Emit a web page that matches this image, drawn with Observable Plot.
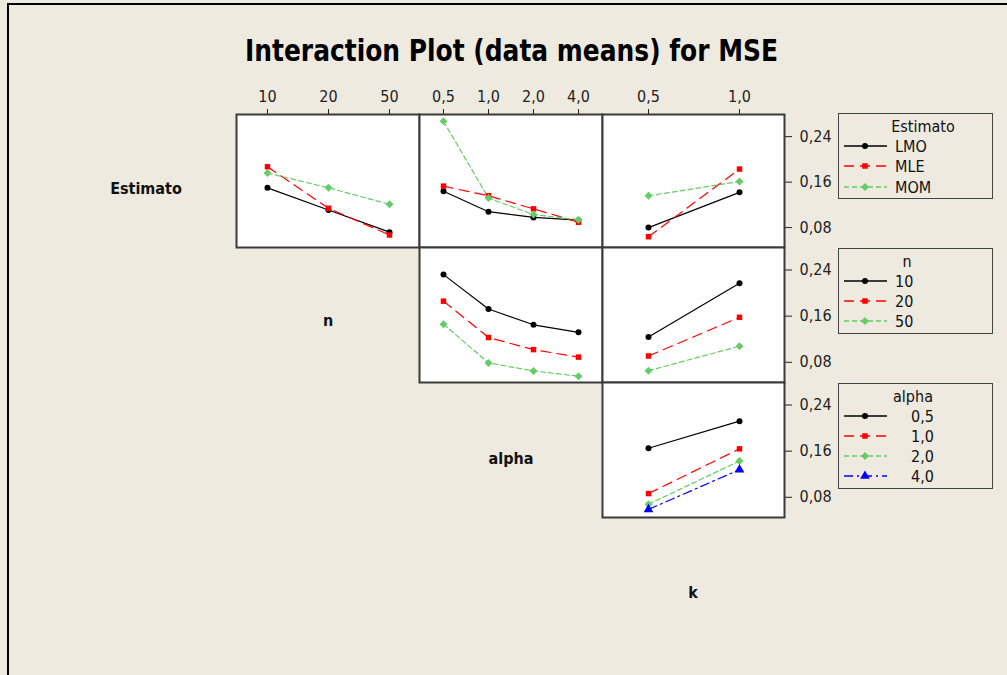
<!DOCTYPE html>
<html>
<head>
<meta charset="utf-8">
<script src="https://cdn.jsdelivr.net/npm/d3@7"></script>
<script src="https://cdn.jsdelivr.net/npm/@observablehq/plot@0.6"></script>
<style>
html, body { margin: 0; padding: 0; background: #EEEAE0; overflow: hidden; }
#root { position: relative; width: 1007px; height: 675px; overflow: hidden; background: #EEEAE0;
  font-family: "DejaVu Sans Condensed", "Liberation Sans", sans-serif; }
.outer { position: absolute; left: 7px; top: 3px; width: 1100px; height: 800px;
  border-left: 2px solid #000; border-top: 2px solid #000; }
.abs { position: absolute; }
.rowlab { position: absolute; transform: translate(-50%, -50%); font-weight: bold; font-size: 16px; color: #111; white-space: nowrap; }
</style>
</head>
<body>
<div id="root"><div class="outer"></div></div>
<script>
// ---------- data ----------
const estimators = ["LMO", "MLE", "MOM"];
const nLevels = ["10", "20", "50"];
const alphaLevels = ["0,5", "1,0", "2,0", "4,0"];
const kLevels = ["0,5", "1,0"];
const yTicks = [0.08, 0.16, 0.24];

// Estimato x n
const lmoByN = [0.150, 0.111, 0.072];
const mleByN = [0.187, 0.114, 0.067];
const momByN = [0.176, 0.150, 0.121];
// Estimato x alpha
const lmoByAlpha = [0.144, 0.108, 0.098, 0.093];
const mleByAlpha = [0.153, 0.136, 0.113, 0.0895];
const momByAlpha = [0.267, 0.132, 0.103, 0.094];
// Estimato x k
const lmoByK = [0.080, 0.142];
const mleByK = [0.064, 0.183];
const momByK = [0.136, 0.161];
// n x alpha
const n10ByAlpha = [0.232, 0.1725, 0.145, 0.132];
const n20ByAlpha = [0.186, 0.123, 0.102, 0.089];
const n50ByAlpha = [0.146, 0.079, 0.065, 0.056];
// n x k
const n10ByK = [0.124, 0.217];
const n20ByK = [0.091, 0.158];
const n50ByK = [0.0655, 0.108];
// alpha x k
const a05ByK = [0.165, 0.212];
const a10ByK = [0.0865, 0.164];
const a20ByK = [0.068, 0.143];
const a40ByK = [0.059, 0.128];

// ---------- styles ----------
const styles = [
  {color: "#000000", dash: null, symbol: "circle", r: 3},
  {color: "#FF0000", dash: "10,6", symbol: "square", r: 3.1},
  {color: "#66CC66", dash: "5,3", symbol: "diamond2", r: 3.6},
  {color: "#0000FF", dash: "9,4,2,4", symbol: "triangle", r: 3.6}
];
const FONT = '"DejaVu Sans Condensed", "Liberation Sans", sans-serif';
const yDomain = [0.045, 0.279];
const fmt = d => d.toFixed(2).replace(".", ",");

const root = document.getElementById("root");

function panel({xDomain, series, left, top, right, bottom, topAxis, rightAxis}) {
  const mL = 1, mB = 1;
  const mT = topAxis ? 34 : 1;
  const mR = rightAxis ? 60 : 1;
  const w = right - left, h = bottom - top;
  const marks = [Plot.frame({fill: "white", stroke: null})];
  series.forEach((vals, si) => {
    const st = styles[si];
    const rows = vals.map((v, i) => ({x: xDomain[i], y: v}));
    marks.push(Plot.line(rows, {x: "x", y: "y", stroke: st.color, strokeWidth: 1.2,
      strokeDasharray: st.dash || undefined}));
  });
  series.forEach((vals, si) => {
    const st = styles[si];
    const rows = vals.map((v, i) => ({x: xDomain[i], y: v}));
    marks.push(Plot.dot(rows, {x: "x", y: "y", symbol: st.symbol, r: st.r, fill: st.color, stroke: null}));
  });
  marks.push(Plot.frame({stroke: "#3a3a3a", strokeWidth: 2}));
  const svg = Plot.plot({
    width: w + mL + mR, height: h + mT + mB,
    marginLeft: mL, marginRight: mR, marginTop: mT, marginBottom: mB,
    x: {type: "point", domain: xDomain, padding: 0.5,
        axis: topAxis ? "top" : null, tickSize: 6, tickPadding: 7, label: null},
    y: {domain: yDomain, axis: rightAxis ? "right" : null, ticks: yTicks, tickFormat: fmt,
        tickSize: 7, tickPadding: 8, label: null},
    style: {background: "transparent", fontFamily: FONT, fontSize: "16px", color: "#222", overflow: "visible"},
    marks
  });
  svg.classList.add("abs");
  svg.style.left = (left - mL) + "px";
  svg.style.top = (top - mT) + "px";
  root.appendChild(svg);
}

const cx = [236, 419, 602, 784];
const ry = [114, 247, 382, 517];

panel({xDomain: nLevels, series: [lmoByN, mleByN, momByN], left: cx[0], right: cx[1], top: ry[0], bottom: ry[1], topAxis: true});
panel({xDomain: alphaLevels, series: [lmoByAlpha, mleByAlpha, momByAlpha], left: cx[1], right: cx[2], top: ry[0], bottom: ry[1], topAxis: true});
panel({xDomain: kLevels, series: [lmoByK, mleByK, momByK], left: cx[2], right: cx[3], top: ry[0], bottom: ry[1], topAxis: true, rightAxis: true});
panel({xDomain: alphaLevels, series: [n10ByAlpha, n20ByAlpha, n50ByAlpha], left: cx[1], right: cx[2], top: ry[1], bottom: ry[2]});
panel({xDomain: kLevels, series: [n10ByK, n20ByK, n50ByK], left: cx[2], right: cx[3], top: ry[1], bottom: ry[2], rightAxis: true});
panel({xDomain: kLevels, series: [a05ByK, a10ByK, a20ByK, a40ByK], left: cx[2], right: cx[3], top: ry[2], bottom: ry[3], rightAxis: true});

// ---------- row labels ----------
[["Estimato", 146, 188], ["n", 328, 320], ["alpha", 511, 458], ["k", 693, 592]].forEach(([t, x, y]) => {
  const d = document.createElement("div");
  d.className = "rowlab"; d.textContent = t;
  d.style.left = x + "px"; d.style.top = y + "px";
  d.style.fontFamily = FONT;
  root.appendChild(d);
});

// ---------- title ----------
const tsvg = d3.create("svg").attr("class", "abs").attr("width", 1007).attr("height", 80)
  .style("left", "0px").style("top", "0px");
tsvg.append("text").attr("x", 511.5).attr("y", 61).attr("text-anchor", "middle")
  .attr("font-family", "DejaVu Sans, sans-serif").attr("font-weight", "bold").attr("font-size", 30)
  .attr("textLength", 533).attr("lengthAdjust", "spacingAndGlyphs").attr("fill", "#000")
  .text("Interaction Plot (data means) for MSE");
root.appendChild(tsvg.node());

// ---------- legends ----------
const lsvg = d3.create("svg").attr("class", "abs").attr("width", 170).attr("height", 420)
  .style("left", "830px").style("top", "100px");
const legends = [
  {title: "Estimato", titleX: 923, labels: estimators, labelX: 895, box: [113, 198], titleY: 126, itemY: [146, 166, 187]},
  {title: "n", titleX: 907, labels: nLevels, labelX: 895, box: [248, 333], titleY: 261, itemY: [281, 301, 321]},
  {title: "alpha", titleX: 913, labels: alphaLevels, labelX: 911, box: [383, 488], titleY: 396, itemY: [416, 436, 456, 476]}
];
const ox = 830, oy = 100;
const symMap = {circle: d3.symbolCircle, square: d3.symbolSquare, diamond2: d3.symbolDiamond2, triangle: d3.symbolTriangle};
legends.forEach(L => {
  lsvg.append("rect").attr("x", 838.5 - ox).attr("y", L.box[0] + 0.5 - oy)
    .attr("width", 154).attr("height", L.box[1] - L.box[0])
    .attr("fill", "none").attr("stroke", "#444").attr("stroke-width", 1);
  lsvg.append("text").attr("x", L.titleX - ox).attr("y", L.titleY - oy).attr("dy", "0.35em")
    .attr("text-anchor", "middle").attr("font-family", FONT).attr("font-size", 16).attr("fill", "#111")
    .text(L.title);
  L.labels.forEach((lab, i) => {
    const st = styles[i];
    const y = L.itemY[i] - oy;
    lsvg.append("line").attr("x1", 844 - ox).attr("x2", 887 - ox).attr("y1", y).attr("y2", y)
      .attr("stroke", st.color).attr("stroke-width", 1.5).attr("stroke-dasharray", st.dash || null);
    lsvg.append("path").attr("transform", `translate(${865 - ox},${y})`)
      .attr("d", d3.symbol(symMap[st.symbol], Math.PI * st.r * st.r)())
      .attr("fill", st.color);
    lsvg.append("text").attr("x", L.labelX - ox).attr("y", y).attr("dy", "0.35em")
      .attr("font-family", FONT).attr("font-size", 16).attr("fill", "#111").text(lab);
  });
});
root.appendChild(lsvg.node());
</script>
</body>
</html>
